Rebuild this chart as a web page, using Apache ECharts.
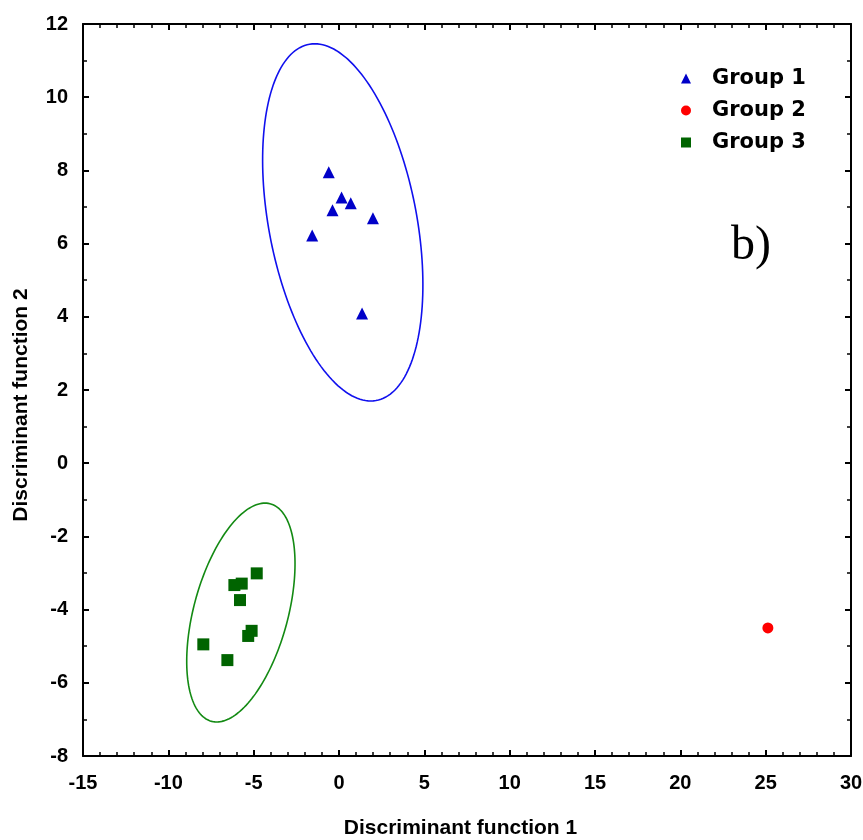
<!DOCTYPE html>
<html lang="en">
<head>
    <meta charset="utf-8">
    <script src="https://cdn.jsdelivr.net/npm/echarts@6/dist/echarts.min.js"></script>
</head>
<body style="margin:0;background:#fff;">
<style>
    #main {
        width: 863px;
        height: 840px;
    }
</style>
<div id="main"></div>

<script>
    // values
    var group1X = [-0.60, 0.15, 0.69, -0.38, 1.99, -1.57, 1.35];
    var group1Y = [7.95, 7.26, 7.10, 6.91, 6.69, 6.22, 4.09];
    var group2X = [25.13];
    var group2Y = [-4.50];
    var group3X = [-4.82, -6.13, -5.70, -5.80, -5.32, -5.12, -7.95, -6.54];
    var group3Y = [-3.01, -3.33, -3.29, -3.74, -4.72, -4.58, -4.95, -5.38];

    // ellipse: centre x, centre y, first semi-axis (dx, dy), conjugate semi-axis (dx, dy)
    var ellipse1 = [0.22, 6.58, -1.64, 4.88, 4.40, 0];
    var ellipse3 = [-5.75, -4.08, 1.415, 2.99, 2.84, 0];

    var groupNames = ['Group 1', 'Group 2', 'Group 3'];

    function pairs(xs, ys) {
        return xs.map(function (x, i) { return [x, ys[i]]; });
    }

    function ellipseItem(params, api) {
        var pts = [];
        var cx = api.value(0), cy = api.value(1);
        var ax = api.value(2), ay = api.value(3);
        var bx = api.value(4), by = api.value(5);
        for (var k = 0; k < 180; k++) {
            var t = k / 180 * Math.PI * 2;
            var c = Math.cos(t), s = Math.sin(t);
            pts.push(api.coord([cx + ax * c + bx * s, cy + ay * c + by * s]));
        }
        return {
            type: 'polygon',
            shape: { points: pts },
            style: { fill: 'none', stroke: api.visual('color'), lineWidth: 1.6 }
        };
    }

    var labelFont = {
        color: '#000',
        fontFamily: 'Liberation Sans',
        fontWeight: 'bold',
        fontSize: 20
    };
    var lineStyle = { color: '#000', width: 2 };

    var chart = echarts.init(document.getElementById('main'), null, { renderer: 'canvas' });

    chart.setOption({
        backgroundColor: '#fff',
        animation: false,
        grid: { left: 83, right: 12, top: 24, bottom: 84, outerBoundsMode: 'none', containLabel: false },
        legend: {
            data: groupNames,
            orient: 'vertical',
            left: 676,
            top: 63,
            itemWidth: 10,
            itemHeight: 10,
            itemGap: 11,
            formatter: function (name) { return '{t|' + name + '}'; },
            textStyle: {
                rich: {
                    t: {
                        fontFamily: 'DejaVu Sans',
                        fontWeight: 'bold',
                        fontSize: 21,
                        lineHeight: 22,
                        color: '#000',
                        padding: [0, 0, 0, 16]
                    }
                }
            }
        },
        graphic: [{
            type: 'text',
            left: 731,
            top: 222,
            style: {
                text: 'b)',
                font: '48px "Liberation Serif"',
                fill: '#000'
            }
        }],
        xAxis: [{
            type: 'value',
            min: -15,
            max: 30,
            interval: 5,
            name: 'Discriminant function 1',
            nameLocation: 'middle',
            nameGap: 62,
            nameTextStyle: {
                color: '#000',
                fontFamily: 'Liberation Sans',
                fontWeight: 'bold',
                fontSize: 21,
                padding: [0, 13, 0, 0]
            },
            axisLine: { onZero: false, lineStyle: lineStyle },
            axisTick: { inside: true, length: 6, lineStyle: lineStyle },
            minorTick: { show: true, splitNumber: 5, length: 4, lineStyle: { color: '#000', width: 1.5 } },
            axisLabel: Object.assign({ margin: 17 }, labelFont),
            splitLine: { show: false }
        }, {
            type: 'value',
            position: 'top',
            min: -15,
            max: 30,
            interval: 5,
            axisLine: { onZero: false, lineStyle: lineStyle },
            axisTick: { inside: true, length: 6, lineStyle: lineStyle },
            minorTick: { show: true, splitNumber: 5, length: 4, lineStyle: { color: '#000', width: 1.5 } },
            axisLabel: { show: false },
            splitLine: { show: false }
        }],
        yAxis: [{
            type: 'value',
            min: -8,
            max: 12,
            interval: 2,
            name: 'Discriminant function 2',
            nameLocation: 'middle',
            nameGap: 51,
            nameTextStyle: {
                color: '#000',
                fontFamily: 'Liberation Sans',
                fontWeight: 'bold',
                fontSize: 21,
                padding: [0, 30, 0, 0]
            },
            axisLine: { onZero: false, lineStyle: lineStyle },
            axisTick: { inside: true, length: 6, lineStyle: lineStyle },
            minorTick: { show: true, splitNumber: 2, length: 4, lineStyle: { color: '#000', width: 1.5 } },
            axisLabel: Object.assign({ margin: 15 }, labelFont),
            splitLine: { show: false }
        }, {
            type: 'value',
            position: 'right',
            min: -8,
            max: 12,
            interval: 2,
            axisLine: { onZero: false, lineStyle: lineStyle },
            axisTick: { inside: true, length: 6, lineStyle: lineStyle },
            minorTick: { show: true, splitNumber: 2, length: 4, lineStyle: { color: '#000', width: 1.5 } },
            axisLabel: { show: false },
            splitLine: { show: false }
        }],
        series: [{
            type: 'custom',
            silent: true,
            itemStyle: { color: '#1010ee' },
            renderItem: ellipseItem,
            data: [ellipse1]
        }, {
            type: 'custom',
            silent: true,
            itemStyle: { color: '#138a13' },
            renderItem: ellipseItem,
            data: [ellipse3]
        }, {
            name: groupNames[0],
            type: 'scatter',
            symbol: 'triangle',
            symbolSize: 12,
            itemStyle: { color: '#0000c8', opacity: 1 },
            data: pairs(group1X, group1Y)
        }, {
            name: groupNames[1],
            type: 'scatter',
            symbol: 'circle',
            symbolSize: 11,
            itemStyle: { color: '#ff0000', opacity: 1 },
            data: pairs(group2X, group2Y)
        }, {
            name: groupNames[2],
            type: 'scatter',
            symbol: 'rect',
            symbolSize: 12,
            itemStyle: { color: '#006400', opacity: 1 },
            data: pairs(group3X, group3Y)
        }]
    });
</script>
</body>
</html>
